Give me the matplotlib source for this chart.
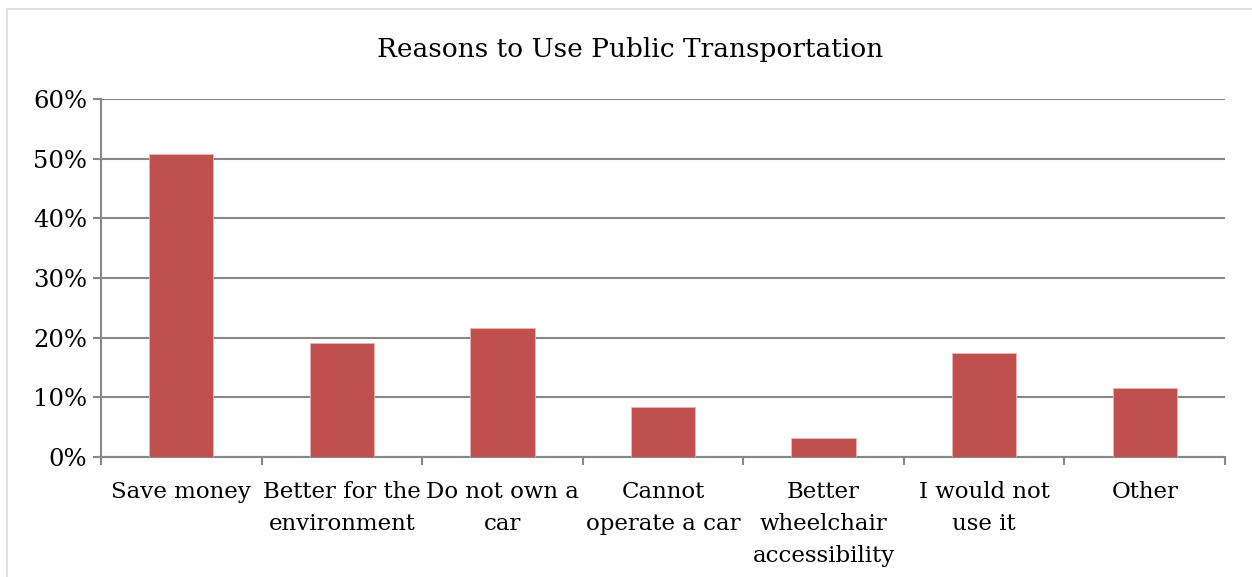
import matplotlib.pyplot as plt
import numpy as np
from matplotlib.ticker import PercentFormatter
from matplotlib.patches import Rectangle

# Data
categories = ['Save money', 'Better for the\nenvironment', 'Do not own a\ncar',
              'Cannot\noperate a car', 'Better\nwheelchair\naccessibility',
              'I would not\nuse it', 'Other']
shares = [50.8, 19.1, 21.6, 8.3, 3.2, 17.4, 11.6]
y_ticks = [0, 10, 20, 30, 40, 50, 60]

plt.rcParams['font.family'] = ['DejaVu Serif']

fig = plt.figure(figsize=(12.52, 5.77), dpi=100)
ax = fig.add_axes([101 / 1252, 1 - 457 / 577, 1124 / 1252, 358 / 577])

# light frame around the chart area, like the Excel chart border
fig.patches.append(Rectangle((7 / 1252, -0.01), 1.1, 1 - 9 / 577 + 0.01,
                             transform=fig.transFigure, fill=False,
                             edgecolor='#d9d9d9', linewidth=1.2))

x = np.arange(len(categories))
ax.bar(x, shares, width=0.4, color='#c0504d', edgecolor='#e8b4b2',
       linewidth=0.6, zorder=3)

ax.set_xlim(-0.5, len(categories) - 0.5)
ax.set_ylim(0, 60)
ax.set_yticks(y_ticks)
ax.yaxis.set_major_formatter(PercentFormatter(decimals=0))
ax.grid(axis='y', color='#878787', linewidth=1.5, zorder=0)

# category labels centred under bars, tick marks between categories
ax.set_xticks(x)
ax.set_xticklabels(categories, fontsize=16.5, linespacing=1.58)
ax.tick_params(axis='x', length=0, pad=17.5)
ax.set_xticks(np.arange(-0.5, len(categories)), minor=True)
ax.tick_params(axis='x', which='minor', length=6, width=1.5, color='#878787')
ax.tick_params(axis='y', length=6, width=1.5, color='#878787',
               labelsize=17.5, pad=4)

for side in ['top', 'right']:
    ax.spines[side].set_visible(False)
for side in ['left', 'bottom']:
    ax.spines[side].set_color('#878787')
    ax.spines[side].set_linewidth(1.5)

fig.text(0.503, 1 - 49 / 577, 'Reasons to Use Public Transportation',
         ha='center', va='center', fontsize=19)

fig.savefig('out.png', dpi=100)
